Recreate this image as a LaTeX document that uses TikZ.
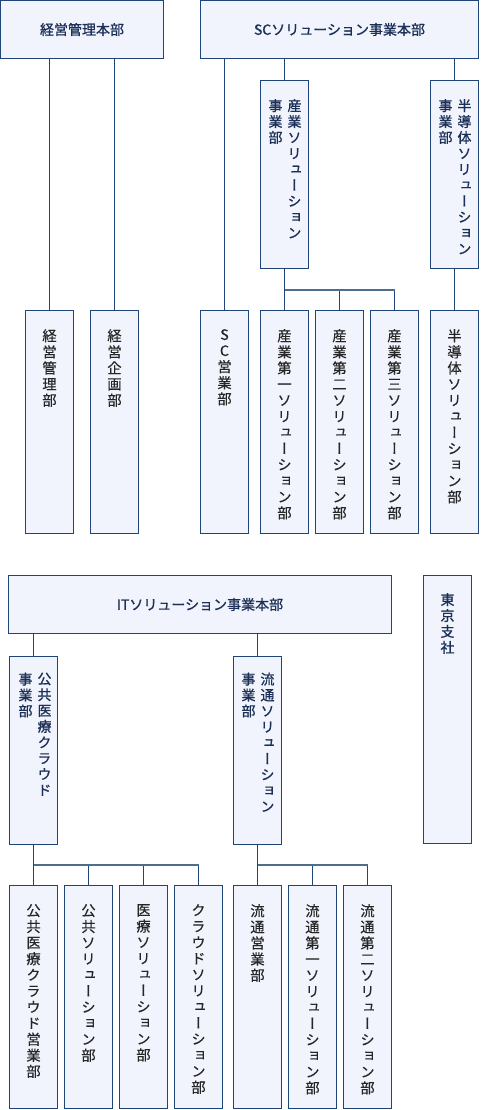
\documentclass[tikz,border=0pt]{standalone}
\usepackage{fontspec}
\newfontfamily\cjkh[FakeBold=0.9]{Noto Sans CJK JP}
\newfontfamily\cjkv[RawFeature=+vert,FakeBold=0.3]{Noto Sans CJK JP}
\newfontfamily\cjkvb[RawFeature=+vert,FakeBold=0.9]{Noto Sans CJK JP}
\usetikzlibrary{positioning}
\definecolor{framenavy}{HTML}{1F4478}
\definecolor{boxfill}{HTML}{F1F4FC}
\definecolor{headtext}{HTML}{1B2F57}
\definecolor{bodytext}{HTML}{262626}
\definecolor{busline}{HTML}{4F6E8E}
\tikzset{
  unit/.style={draw=framenavy, fill=boxfill, line width=1pt, inner sep=0pt,
    minimum width=48pt, minimum height=223pt},
  division/.style={unit, minimum height=188pt},
  head/.style={unit, minimum height=58pt, text=headtext,
    font=\cjkh\fontsize{14}{16}\selectfont},
  vhead/.style={inner sep=0pt, align=center, text=headtext,
    font=\cjkvb\fontsize{14}{15.9}\selectfont},
  vbody/.style={inner sep=0pt, align=center, text=bodytext,
    font=\cjkv\fontsize{14.3}{16.1}\selectfont},
  link/.style={draw=framenavy, line width=1pt},
  bus/.style={draw=busline, line width=2pt}
}
\begin{document}
\begin{tikzpicture}[x=1pt,y=-1pt]
  \useasboundingbox (0,0) rectangle (480,1110);
  % top row
  \node[head, minimum width=163pt] (kanrihq) at (82,29.5) {経営管理本部};
  \node[head, minimum width=278pt] (schq) at (339.5,29.5) {SCソリューション事業本部};
  \node[unit] (kanri) at (49.5,422) {};
  \node[unit] (kikaku) at (114.5,422) {};
  \node[unit] (sceigyo) at (224.5,422) {};
  \node[division] (sangyo) at (284.5,174.5) {};
  \node[division] (handotai) at (454.5,174.5) {};
  \node[unit] (sangyo1) at (284.5,422) {};
  \node[unit] (sangyo2) at (339.5,422) {};
  \node[unit] (sangyo3) at (394.5,422) {};
  \node[unit] (handotaibu) at (454.5,422) {};
  \node[vbody, below=19pt of kanri.north] (kanri-t) {経\\営\\管\\理\\部};
  \node[vbody, below=19pt of kikaku.north] (kikaku-t) {経\\営\\企\\画\\部};
  \node[vbody, below=19pt of sceigyo.north] (sceigyo-t) {S\\C\\営\\業\\部};
  \node[vhead, below=19pt of sangyo.north, xshift=10pt] (sangyo-t)
    {産\\業\\ソ\\リ\\ュ\\ー\\シ\\ョ\\ン};
  \node[vhead, below=19pt of sangyo.north, xshift=-9pt] (sangyo-s) {事\\業\\部};
  \node[vhead, below=19pt of handotai.north, xshift=10pt] (handotai-t)
    {半\\導\\体\\ソ\\リ\\ュ\\ー\\シ\\ョ\\ン};
  \node[vhead, below=19pt of handotai.north, xshift=-9pt] (handotai-s) {事\\業\\部};
  \node[vbody, below=19pt of sangyo1.north] (sangyo1-t)
    {産\\業\\第\\一\\ソ\\リ\\ュ\\ー\\シ\\ョ\\ン\\部};
  \node[vbody, below=19pt of sangyo2.north] (sangyo2-t)
    {産\\業\\第\\二\\ソ\\リ\\ュ\\ー\\シ\\ョ\\ン\\部};
  \node[vbody, below=19pt of sangyo3.north] (sangyo3-t)
    {産\\業\\第\\三\\ソ\\リ\\ュ\\ー\\シ\\ョ\\ン\\部};
  \node[vbody, below=19pt of handotaibu.north] (handotaibu-t)
    {半\\導\\体\\ソ\\リ\\ュ\\ー\\シ\\ョ\\ン\\部};
  \draw[link] (kanri.north |- kanrihq.south) -- (kanri.north);
  \draw[link] (kikaku.north |- kanrihq.south) -- (kikaku.north);
  \draw[link] (sceigyo.north |- schq.south) -- (sceigyo.north);
  \draw[link] (sangyo.north |- schq.south) -- (sangyo.north);
  \draw[link] (handotai.north |- schq.south) -- (handotai.north);
  \draw[link] (handotai.south) -- (handotaibu.north);
  \draw[link] (sangyo.south) -- (sangyo1.north);
  \draw[link] (sangyo2.north) -- ++(0pt,20pt);
  \draw[link] (sangyo3.north) -- ++(0pt,20pt);
  \draw[bus] ([yshift=20pt]sangyo1.north) -- ([yshift=20pt]sangyo3.north);
  % bottom row
  \node[head, minimum width=383pt] (ithq) at (200,604.5) {ITソリューション事業本部};
  \node[unit, minimum height=268pt] (tokyo) at (447.5,709.5) {};
  \node[division] (kokyo) at (33.5,750) {};
  \node[division] (ryutsu) at (257.5,750) {};
  \node[unit] (kokyo1) at (33.5,997) {};
  \node[unit] (kokyo2) at (88.5,997) {};
  \node[unit] (kokyo3) at (143.5,997) {};
  \node[unit] (kokyo4) at (198.5,997) {};
  \node[unit] (ryutsu1) at (257.5,997) {};
  \node[unit] (ryutsu2) at (312.5,997) {};
  \node[unit] (ryutsu3) at (367.5,997) {};
  \node[vhead, below=18pt of tokyo.north] (tokyo-t) {東\\京\\支\\社};
  \node[vhead, below=17pt of kokyo.north, xshift=11pt] (kokyo-t)
    {公\\共\\医\\療\\ク\\ラ\\ウ\\ド};
  \node[vhead, below=17pt of kokyo.north, xshift=-8pt] (kokyo-s) {事\\業\\部};
  \node[vhead, below=17pt of ryutsu.north, xshift=10pt] (ryutsu-t)
    {流\\通\\ソ\\リ\\ュ\\ー\\シ\\ョ\\ン};
  \node[vhead, below=17pt of ryutsu.north, xshift=-9pt] (ryutsu-s) {事\\業\\部};
  \node[vbody, below=19pt of kokyo1.north] (kokyo1-t)
    {公\\共\\医\\療\\ク\\ラ\\ウ\\ド\\営\\業\\部};
  \node[vbody, below=19pt of kokyo2.north] (kokyo2-t)
    {公\\共\\ソ\\リ\\ュ\\ー\\シ\\ョ\\ン\\部};
  \node[vbody, below=19pt of kokyo3.north] (kokyo3-t)
    {医\\療\\ソ\\リ\\ュ\\ー\\シ\\ョ\\ン\\部};
  \node[vbody, below=19pt of kokyo4.north] (kokyo4-t)
    {ク\\ラ\\ウ\\ド\\ソ\\リ\\ュ\\ー\\シ\\ョ\\ン\\部};
  \node[vbody, below=19pt of ryutsu1.north] (ryutsu1-t) {流\\通\\営\\業\\部};
  \node[vbody, below=19pt of ryutsu2.north] (ryutsu2-t)
    {流\\通\\第\\一\\ソ\\リ\\ュ\\ー\\シ\\ョ\\ン\\部};
  \node[vbody, below=19pt of ryutsu3.north] (ryutsu3-t)
    {流\\通\\第\\二\\ソ\\リ\\ュ\\ー\\シ\\ョ\\ン\\部};
  \draw[link] (kokyo.north |- ithq.south) -- (kokyo.north);
  \draw[link] (ryutsu.north |- ithq.south) -- (ryutsu.north);
  \draw[link] (kokyo.south) -- (kokyo1.north);
  \draw[link] (ryutsu.south) -- (ryutsu1.north);
  \draw[link] (kokyo2.north) -- ++(0pt,20pt);
  \draw[link] (kokyo3.north) -- ++(0pt,20pt);
  \draw[link] (kokyo4.north) -- ++(0pt,20pt);
  \draw[link] (ryutsu2.north) -- ++(0pt,20pt);
  \draw[link] (ryutsu3.north) -- ++(0pt,20pt);
  \draw[bus] ([yshift=20pt]kokyo1.north) -- ([yshift=20pt]kokyo4.north);
  \draw[bus] ([yshift=20pt]ryutsu1.north) -- ([yshift=20pt]ryutsu3.north);
\end{tikzpicture}
\end{document}
